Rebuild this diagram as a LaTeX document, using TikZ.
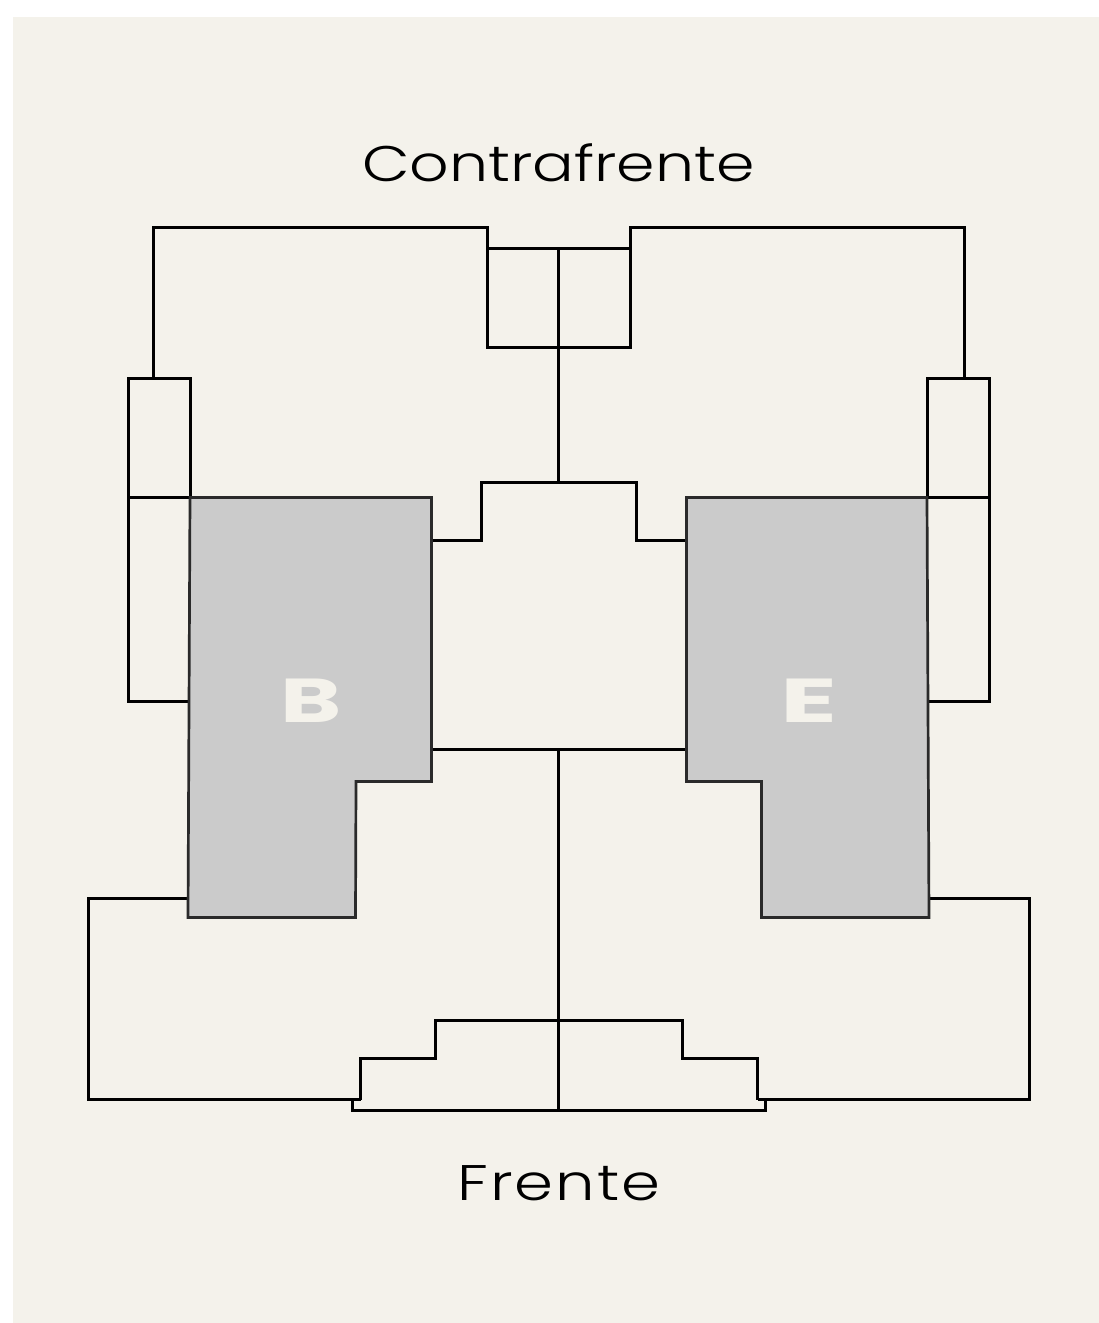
\documentclass[tikz,border=0pt]{standalone}
\usepackage{fontspec}
\newfontfamily\lab[FakeStretch=1.235]{Poppins Light}
\newfontfamily\labwide[FakeStretch=1.25,LetterSpace=4]{Poppins Light}
\newfontfamily\unit[FakeStretch=1.5]{Poppins Bold}
\newfontfamily\unitwide[FakeStretch=1.7]{Poppins Bold}
\definecolor{paper}{HTML}{F4F2EB}
\definecolor{unitfill}{HTML}{CBCBCB}
\definecolor{unitline}{HTML}{2A2A2A}
\tikzset{
  wall/.style={draw=black,line width=2.7pt,line join=miter},
  unitshape/.style={draw=unitline,fill=unitfill,line width=2.7pt,line join=miter},
  sidelabel/.style={text=black,inner sep=0pt},
  unitlabel/.style={text=paper,inner sep=0pt}
}
\begin{document}
\begin{tikzpicture}[x=1pt,y=-1pt]
\useasboundingbox (0,0) rectangle (1099,1323);
\fill[white] (0,0) rectangle (1099,1323);
\fill[paper] (13,17) rectangle (1099,1323);
% upper wing
\draw[wall] (153.5,378.5) -- (153.5,227.5) -- (487.5,227.5) -- (487.5,248.5);
\draw[wall] (630.5,248.5) -- (630.5,227.5) -- (964.5,227.5) -- (964.5,378.5);
\draw[wall] (487.5,248.5) rectangle (630.5,347.5);
\draw[wall] (558.5,248.5) -- (558.5,482.5);
% side balconies
\draw[wall] (128.5,378.5) rectangle (190.5,497.5);
\draw[wall] (128.5,497.5) -- (128.5,701.5) -- (189.5,701.5);
\draw[wall] (927.5,378.5) rectangle (989.5,497.5);
\draw[wall] (989.5,497.5) -- (989.5,701.5) -- (928.5,701.5);
% courtyard
\draw[wall] (431.5,540.5) -- (481.5,540.5) -- (481.5,482.5) -- (636.5,482.5) -- (636.5,540.5) -- (686.5,540.5);
\draw[wall] (431.5,749.5) -- (686.5,749.5);
\draw[wall] (558.5,749.5) -- (558.5,1110.5);
% lower wing
\draw[wall] (188.5,898.5) -- (88.5,898.5) -- (88.5,1099.5) -- (360.5,1099.5);
\draw[wall] (929.5,898.5) -- (1029.5,898.5) -- (1029.5,1099.5) -- (757.5,1099.5);
\draw[wall] (352.5,1099.5) -- (352.5,1110.5) -- (765.5,1110.5) -- (765.5,1099.5);
\draw[wall] (360.5,1099.5) -- (360.5,1058.5) -- (435.5,1058.5) -- (435.5,1020.5) -- (682.5,1020.5) -- (682.5,1058.5) -- (757.5,1058.5) -- (757.5,1099.5);
% units
\draw[unitshape] (190,497.5) -- (431.5,497.5) -- (431.5,781.5) -- (356,781.5) -- (355.5,917.5) -- (188,917.5) -- cycle;
\draw[unitshape] (686.5,497.5) -- (927,497.5) -- (929,917.5) -- (761.5,917.5) -- (761.5,781.5) -- (686.5,781.5) -- cycle;
% labels
\node[sidelabel,anchor=base,font=\lab\fontsize{50}{50}\selectfont] (contra) at (558.5,181.5) {Contrafrente};
\node[sidelabel,anchor=base,font=\labwide\fontsize{50}{50}\selectfont] (frente) at (559,1200) {Frente};
\node[unitlabel,anchor=base,font=\unit\fontsize{62}{62}\selectfont] (unitB) at (311,722) {B};
\node[unitlabel,anchor=base,font=\unitwide\fontsize{62}{62}\selectfont] (unitE) at (809.5,722) {E};
\end{tikzpicture}
\end{document}
